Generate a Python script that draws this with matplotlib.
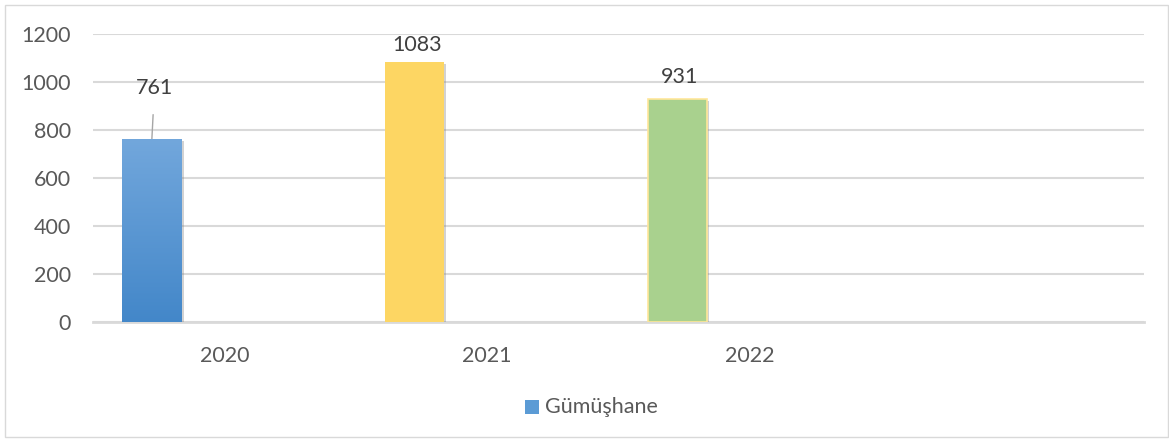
import numpy as np
import matplotlib.pyplot as plt
import matplotlib.patheffects as pe
from matplotlib.patches import Rectangle
from matplotlib.colors import LinearSegmentedColormap

years = ["2020", "2021", "2022", ""]
values = [761, 1083, 931]
series_name = "Gümüşhane"
# label positions (value units) for the data labels
label_y = [975, 1154, 1021]

plt.rcParams['font.family'] = ['Lato', 'DejaVu Sans']

fig = plt.figure(figsize=(11.69, 4.41), dpi=100)
ax = fig.add_axes([93/1169, 119/441, (1144-93)/1169, 288/441])

# outer chart border
fig.patches.append(Rectangle((5/1169, 4/441), 1163/1169, 432/441, transform=fig.transFigure,
                             fill=False, edgecolor='#D9D9D9', linewidth=1.0))

x = np.arange(len(years))
offset = -0.276
width = 0.226
colors = ['#5B9BD5', '#FDD663', '#A9D18E']
edges = ['none', 'none', '#FFE699']

shadow = [pe.SimplePatchShadow(offset=(1.5, -1.5), shadow_rgbFace='#7F7F7F', alpha=0.35), pe.Normal()]
bars = ax.bar(x[:3] + offset, values, width=width, color=colors, edgecolor=edges,
              linewidth=1.2, zorder=3)
for b in bars:
    b.set_path_effects(shadow)

# blue gradient on first bar (darker at bottom)
b0 = bars[0]
grad = np.linspace(0, 1, 256).reshape(-1, 1)
cmap_blue = LinearSegmentedColormap.from_list('bl', ['#4387C9', '#72A7DC'])
img = ax.imshow(grad, cmap=cmap_blue, aspect='auto', zorder=3.5, origin='lower',
                extent=[b0.get_x(), b0.get_x() + b0.get_width(), 0, values[0]])
img.set_clip_path(b0)

# data labels
for i, v in enumerate(values):
    xc = x[i] + offset
    if i == 0:
        ax.annotate(str(v), xy=(xc, v), xytext=(xc + 0.01, label_y[i]), ha='center', va='center',
                    fontsize=15.5, color='#404040',
                    arrowprops=dict(arrowstyle='-', color='#A6A6A6', lw=1.0, shrinkA=10, shrinkB=0))
    else:
        ax.text(xc + 0.01, label_y[i], str(v), ha='center', va='center', fontsize=15.5, color='#404040')

ax.set_xlim(-0.5, 3.5)
ax.set_ylim(0, 1200)
ax.set_yticks(np.arange(0, 1201, 200))
ax.set_xticks(x)
ax.set_xticklabels(years)
ax.tick_params(axis='both', length=0, labelsize=15.5, colors='#595959')
ax.tick_params(axis='y', pad=16)
ax.tick_params(axis='x', pad=17)
ax.grid(axis='y', color='#D9D9D9', linewidth=1.5, zorder=0)
ax.set_axisbelow(True)
for s in ['top', 'right', 'left']:
    ax.spines[s].set_visible(False)
ax.spines['bottom'].set_color('#D9D9D9')
ax.spines['bottom'].set_linewidth(2)

# legend
fig.patches.append(Rectangle((525/1169, 27/441), 14/1169, 14/441,
                             transform=fig.transFigure, facecolor='#5B9BD5', edgecolor='none'))
fig.text(545/1169, (441-407)/441, series_name, ha='left', va='center', fontsize=15.5, color='#595959')

fig.savefig('out.png', dpi=100)
